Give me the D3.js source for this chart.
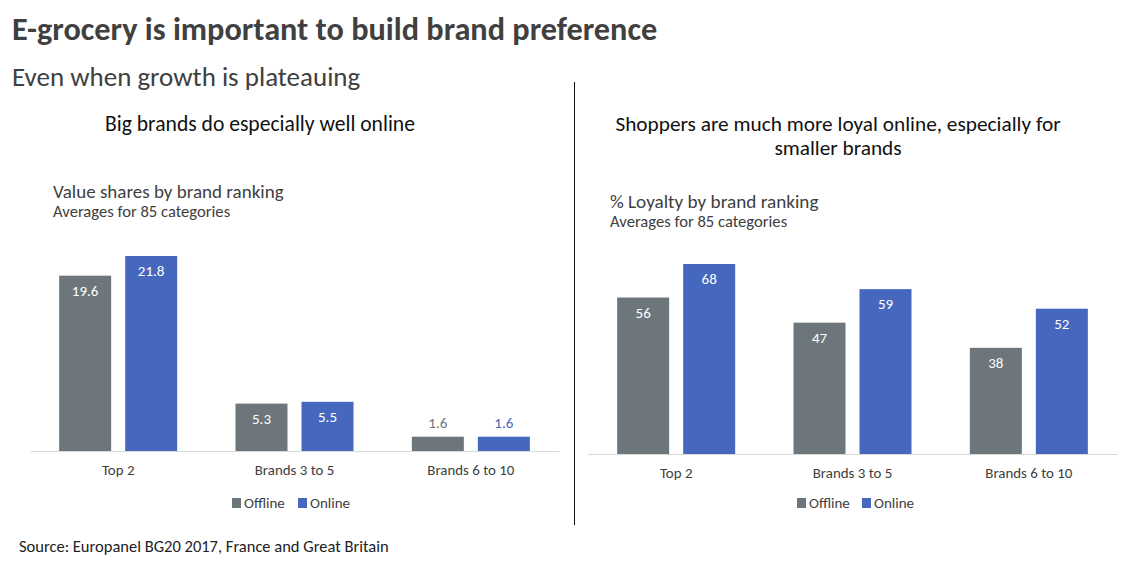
<!DOCTYPE html>
<html><head><meta charset="utf-8">
<script src="https://cdn.jsdelivr.net/npm/d3@7/dist/d3.min.js"></script>
<style>html,body{margin:0;padding:0;background:#fff}svg{display:block}text{font-family:Carlito,Lato,sans-serif}</style>
</head><body><svg id="c" width="1140" height="585"></svg>
<script>
const categories=["Top 2","Brands 3 to 5","Brands 6 to 10"];
const seriesNames=["Offline","Online"];
const shareOffline=[19.6,5.3,1.6];
const shareOnline=[21.8,5.5,1.6];
const loyaltyOffline=[56,47,38];
const loyaltyOnline=[68,59,52];
const GREY="#6c767b",BLUE="#4568be",TXT="#404040";
const svg=d3.select("#c");
function t(x,y,s,size,o={}){return svg.append("text").attr("x",x).attr("y",y).text(s).attr("font-size",size).attr("fill",o.fill||TXT).attr("text-anchor",o.anchor||"start").attr("font-weight",o.weight||"normal");}
t(12,39.5,"E-grocery is important to build brand preference",32.3,{weight:"bold"});
t(12,86,"Even when growth is plateauing",27);
t(260,131,"Big brands do especially well online",21.6,{anchor:"middle",fill:"#111"});
t(838,131,"Shoppers are much more loyal online, especially for",21.3,{anchor:"middle",fill:"#111"});
t(838,155,"smaller brands",21.3,{anchor:"middle",fill:"#111"});
t(53,198,"Value shares by brand ranking",19);
t(53,217,"Averages for 85 categories",16.6);
t(610,208,"% Loyalty by brand ranking",19.2);
t(610,227,"Averages for 85 categories",16.6);
t(19,552,"Source: Europanel BG20 2017, France and Great Britain",16.5,{fill:"#222"});
svg.append("line").attr("x1",574.5).attr("x2",574.5).attr("y1",82).attr("y2",525).attr("stroke","#111");
function panel(x0,x1,base,top,maxV,off,on,fmt,outsideBelow,legendX,legendGap){
  const x=d3.scaleBand().domain(categories).range([x0,x1]);
  const y=d3.scaleLinear().domain([0,maxV]).range([base,top]);
  const ax=d3.axisBottom(x).tickSize(0).tickPadding(13);
  const g=svg.append("g").attr("transform",`translate(0,${base})`).call(ax);
  g.select(".domain").attr("stroke","#d9d9d9");
  g.selectAll("text").attr("font-size",14.9).attr("fill",TXT).style("font-family","Carlito,Lato,sans-serif");
  [off,on].forEach((vals,k)=>{
    const col=k?BLUE:GREY;
    vals.forEach((v,i)=>{
      const bx=x(categories[i])+x.bandwidth()/2-59+(k?66:0);
      svg.append("rect").attr("x",bx).attr("width",52).attr("y",y(v)).attr("height",base-y(v)).attr("fill",col);
      const out=v<outsideBelow;
      t(bx+26,out?y(v)-9:y(v)+20,fmt(v),15,{anchor:"middle",fill:out?col:"#fff"});
    });
  });
  [0,1].forEach(k=>{
    const lx=legendX+(k?legendGap:0);
    svg.append("rect").attr("x",lx).attr("y",498).attr("width",9).attr("height",10).attr("fill",k?BLUE:GREY);
    t(lx+12,508,seriesNames[k],15);
  });
}
panel(30,559,451,256,21.8,shareOffline,shareOnline,d3.format(".1f"),3,232,66);
panel(588,1117,454,264,68,loyaltyOffline,loyaltyOnline,d3.format("d"),0,797,65);
</script></body></html>
